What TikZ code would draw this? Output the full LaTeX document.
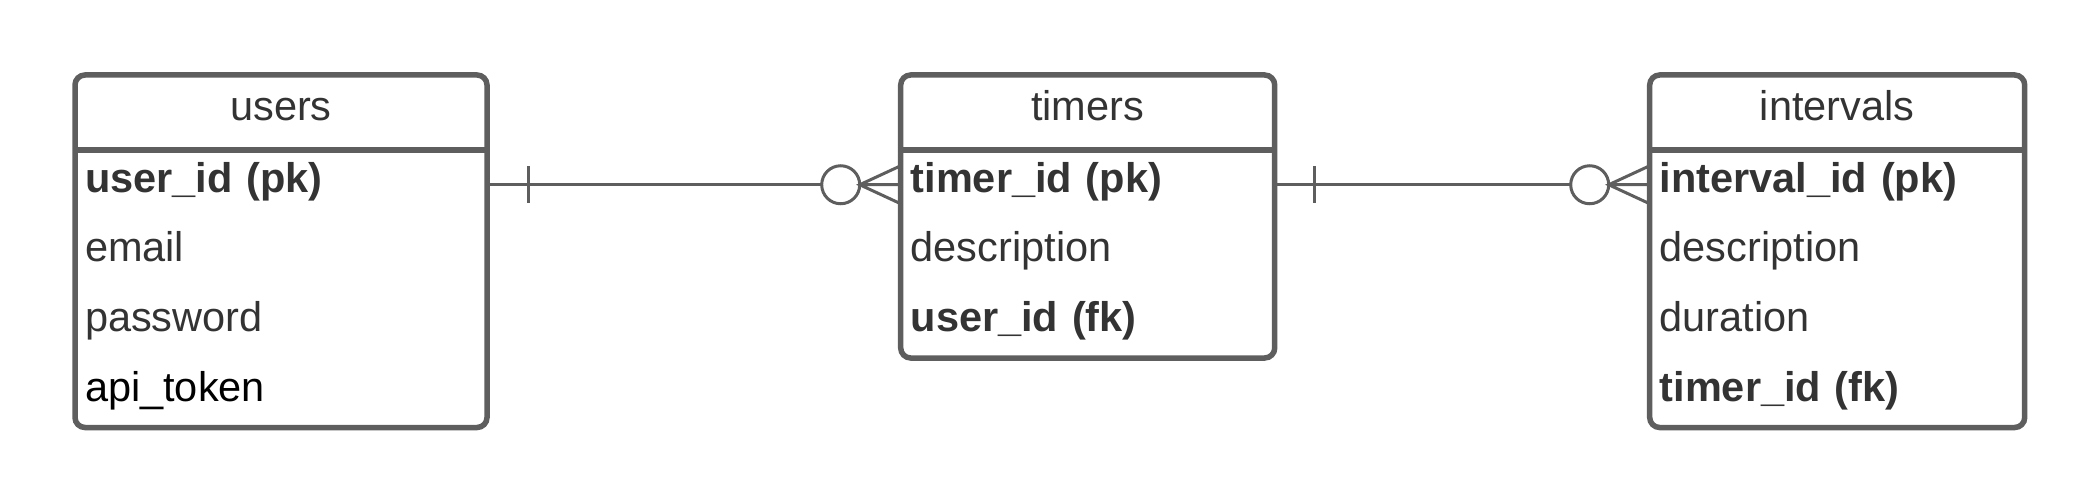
\documentclass[tikz,border=0pt]{standalone}
\usepackage{fontspec}
\setmainfont{Liberation Sans}
\usetikzlibrary{calc}
\definecolor{edge}{HTML}{5E5E5E}
\definecolor{txt}{HTML}{333333}
\begin{document}
\begin{tikzpicture}[x=1bp,y=-1bp,
  tbl/.style={draw=edge,line width=5.5bp,rounded corners=10bp,inner sep=0,outer sep=0,anchor=north west},
  ttl/.style={anchor=base,text=txt,font=\fontsize{41.5bp}{49bp}\selectfont,inner sep=0},
  fld/.style={anchor=north west,inner ysep=0,inner xsep=10bp,outer sep=0,text height=42.5bp,text depth=27bp,align=left,text=txt,font=\fontsize{41.5bp}{49bp}\selectfont},
  key/.style={fld,font=\fontsize{41.5bp}{49bp}\selectfont\bfseries},
  sep/.style={draw=edge,line width=5.5bp},
  conn/.style={draw=edge,line width=3bp},
]
\useasboundingbox (0,0) rectangle (2100,503);

% users
\node[tbl,minimum width=412bp,minimum height=352.5bp] (users) at (75,75) {};
\node[ttl] (usersT) at (281,121) {users};
\node[key,text width=392bp] (u1) at (75,150) {user\_id (pk)};
\node[fld,text width=392bp] (u2) at (75,219.5) {email};
\node[fld,text width=392bp] (u3) at (75,289) {password};
\node[fld,text width=392bp,text=black] (u4) at (75,358.5) {api\_token};
\draw[sep] (u1.north west) -- (u1.north east);

% timers
\node[tbl,minimum width=374bp,minimum height=283bp] (timers) at (900.7,75) {};
\node[ttl] (timersT) at (1087.7,121) {timers};
\node[key,text width=354bp] (t1) at (900.7,150) {timer\_id (pk)};
\node[fld,text width=354bp] (t2) at (900.7,219.5) {description};
\node[key,text width=354bp] (t3) at (900.7,289) {user\_id (fk)};
\draw[sep] (t1.north west) -- (t1.north east);

% intervals
\node[tbl,minimum width=375bp,minimum height=352.5bp] (intervals) at (1649.7,75) {};
\node[ttl] (intervalsT) at (1837.2,121) {intervals};
\node[key,text width=355bp] (i1) at (1649.7,150) {interval\_id (pk)};
\node[fld,text width=355bp] (i2) at (1649.7,219.5) {description};
\node[fld,text width=355bp] (i3) at (1649.7,289) {duration};
\node[key,text width=355bp] (i4) at (1649.7,358.5) {timer\_id (fk)};
\draw[sep] (i1.north west) -- (i1.north east);

% users -> timers
\coordinate (c1) at ($(t1.west)+(-60,0)$);
\draw[conn] (u1.east) -- ($(c1)+(-19,0)$);
\draw[conn] (c1) circle[radius=19];
\draw[conn] ($(u1.east)+(41,-18.5)$) -- ($(u1.east)+(41,18.5)$);
\draw[conn] ($(t1.west)+(0,-19)$) -- ($(c1)+(19,0)$) -- ($(t1.west)+(0,19)$)
            ($(c1)+(19,0)$) -- (t1.west);

% timers -> intervals
\coordinate (c2) at ($(i1.west)+(-60,0)$);
\draw[conn] (t1.east) -- ($(c2)+(-19,0)$);
\draw[conn] (c2) circle[radius=19];
\draw[conn] ($(t1.east)+(40,-18.5)$) -- ($(t1.east)+(40,18.5)$);
\draw[conn] ($(i1.west)+(0,-19)$) -- ($(c2)+(19,0)$) -- ($(i1.west)+(0,19)$)
            ($(c2)+(19,0)$) -- (i1.west);
\end{tikzpicture}
\end{document}
